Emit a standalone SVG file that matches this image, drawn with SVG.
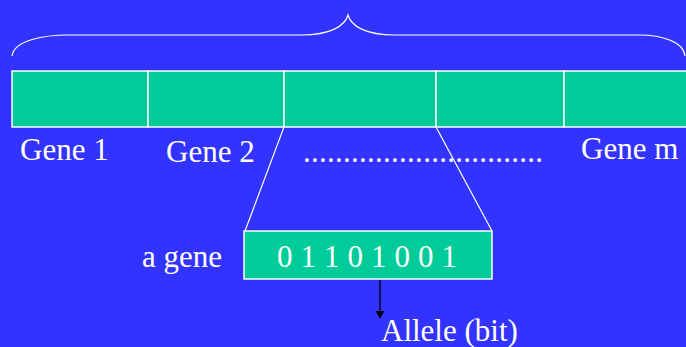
<svg xmlns="http://www.w3.org/2000/svg" width="686" height="347" viewBox="0 0 686 347">
  <style>
    .lbl { font-family: "Liberation Serif", "Times New Roman", serif; font-size: 31px; fill: #ffffff; }
    .cell { fill: #00cc99; stroke: #ffffff; stroke-width: 1.5; }
    .wire { fill: none; stroke: #ffffff; stroke-width: 1.2; }
  </style>
  <defs>
    <marker id="arrowhead" markerWidth="8" markerHeight="9" refX="7" refY="4.5" orient="auto" markerUnits="userSpaceOnUse">
      <path d="M0,0 L7.5,4.5 L0,9 Z" fill="#000000"/>
    </marker>
  </defs>

  <!-- background -->
  <rect x="0" y="0" width="686" height="347" fill="#3333ff"/>

  <!-- brace over the chromosome -->
  <path class="wire" d="M12,56 C14,40 45,35 68,35 L302,35 C330,35 345,26 348,15 C351,26 366,35 394,35 L639,35 C662,35 684,42 685,56"/>

  <!-- chromosome made of genes -->
  <g id="chromosome">
    <rect class="cell" x="12" y="71" width="136" height="56"/>
    <rect class="cell" x="148" y="71" width="136" height="56"/>
    <rect class="cell" x="284" y="71" width="152" height="56"/>
    <rect class="cell" x="436" y="71" width="128" height="56"/>
    <rect class="cell" x="564" y="71" width="130" height="56"/>
  </g>

  <g id="gene-labels">
    <text class="lbl" x="20" y="160">Gene 1</text>
    <text class="lbl" x="166" y="162">Gene 2</text>
    <text class="lbl" x="303" y="162" textLength="240" lengthAdjust="spacing">..............................</text>
    <text class="lbl" x="581" y="159">Gene m</text>
  </g>

  <!-- expansion of one gene -->
  <g id="connectors">
    <line class="wire" x1="284" y1="127" x2="245" y2="231"/>
    <line class="wire" x1="436" y1="127" x2="492" y2="231"/>
    <line x1="380" y1="279" x2="380" y2="318" stroke="#000000" stroke-width="1.3" marker-end="url(#arrowhead)"/>
  </g>

  <g id="gene">
    <rect class="cell" x="244" y="231" width="248" height="48"/>
    <text class="lbl" x="277" y="267" textLength="180" lengthAdjust="spacing">0 1 1 0 1 0 0 1</text>
  </g>

  <text id="gene-label" class="lbl" x="142" y="267">a gene</text>
  <text id="allele-label" class="lbl" x="381" y="341">Allele (bit)</text>
</svg>
